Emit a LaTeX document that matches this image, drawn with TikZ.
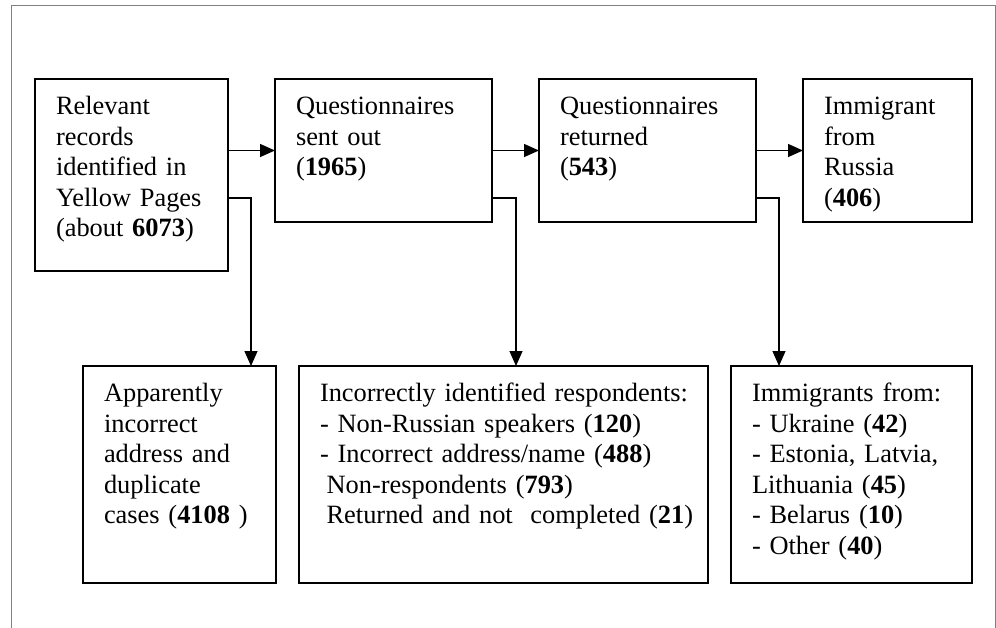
\documentclass[tikz,border=0pt]{standalone}
\usepackage{fontspec}
\setmainfont{Liberation Serif}
\usetikzlibrary{arrows.meta,calc}
\tikzset{
  box/.style={draw=black, line width=1.3pt, rectangle, inner sep=0pt, outer sep=0pt, anchor=north west},
  txt/.style={anchor=base west, inner sep=0pt, outer sep=0pt, text width=380pt, align=left,
              font=\fontsize{26.4}{30.6}\selectfont},
  conn/.style={draw=black, line width=1.3pt, -{Triangle[length=15pt,width=13pt]}},
  frame/.style={draw=black!50, line width=1pt}
}
\begin{document}
\begin{tikzpicture}[x=1pt,y=-1pt]
\useasboundingbox (0,0) rectangle (996,628);
\draw[frame] (11,628) -- (11,6) -- (995,6) -- (995,628);
% top row
\node[box, minimum width=193pt, minimum height=192pt] (b1) at (35,79) {};
\node[box, minimum width=217pt, minimum height=143pt] (b2) at (275,79) {};
\node[box, minimum width=217pt, minimum height=143pt] (b3) at (539,79) {};
\node[box, minimum width=169pt, minimum height=143pt] (b4) at (803,79) {};
% bottom row
\node[box, minimum width=193pt, minimum height=217pt] (b5) at (83,366) {};
\node[box, minimum width=409pt, minimum height=217pt] (b6) at (299,366) {};
\node[box, minimum width=241pt, minimum height=217pt] (b7) at (731,366) {};
% texts
\node[txt] (t1) at ($(b1.north west)+(21,35.5)$) {Relevant\\records\\identified in\\Yellow Pages\\(about \textbf{6073})};
\node[txt] (t2) at ($(b2.north west)+(21,35.5)$) {Questionnaires\\sent out\\(\textbf{1965})};
\node[txt] (t3) at ($(b3.north west)+(21,35.5)$) {Questionnaires\\returned\\(\textbf{543})};
\node[txt] (t4) at ($(b4.north west)+(21,35.5)$) {Immigrant\\from\\Russia\\(\textbf{406})};
\node[txt] (t5) at ($(b5.north west)+(21,35.5)$) {Apparently\\incorrect\\address and\\duplicate\\cases (\textbf{4108} )};
\node[txt] (t6) at ($(b6.north west)+(21,35.5)$) {Incorrectly identified respondents:\\- Non-Russian speakers (\textbf{120})\\- Incorrect address/name (\textbf{488})\\\hspace*{6.6pt}Non-respondents (\textbf{793})\\\hspace*{6.6pt}Returned and not~~completed (\textbf{21})};
\node[txt] (t7) at ($(b7.north west)+(21,35.5)$) {Immigrants from:\\- Ukraine (\textbf{42})\\\makebox[199pt][s]{- Estonia, Latvia,}\\Lithuania (\textbf{45})\\- Belarus (\textbf{10})\\- Other (\textbf{40})};
% connectors
\draw[conn] (b1.east |- b2.west) -- (b2.west);
\draw[conn] (b2.east) -- (b3.west);
\draw[conn] (b3.east) -- (b4.west);
\draw[conn] ($(b1.north east)+(0,119)$) -| ($(b5.north west)+(168,0)$);
\draw[conn] ($(b2.north east)+(0,119)$) -| ($(b6.north west)+(217,0)$);
\draw[conn] ($(b3.north east)+(0,119)$) -| ($(b7.north west)+(48,0)$);
\end{tikzpicture}
\end{document}
